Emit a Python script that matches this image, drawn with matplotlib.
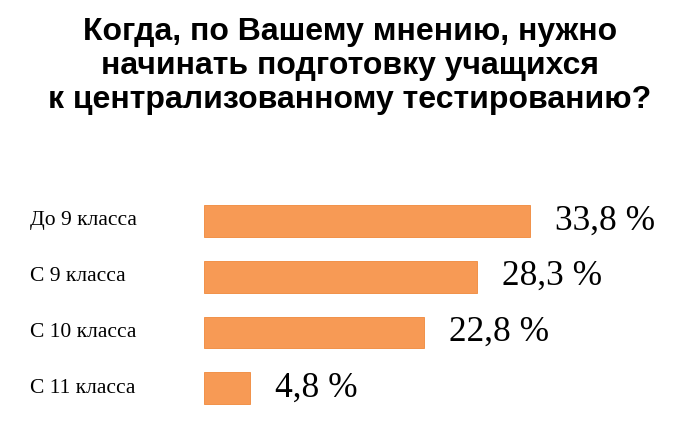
import matplotlib
matplotlib.use("Agg")
import matplotlib.pyplot as plt

categories = ["До 9 класса", "С 9 класса", "С 10 класса", "С 11 класса"]
values = [33.8, 28.3, 22.8, 4.8]
value_labels = ["33,8 %", "28,3 %", "22,8 %", "4,8 %"]
title = "Когда, по Вашему мнению, нужно\nначинать подготовку учащихся\nк централизованному тестированию?"

fig = plt.figure(figsize=(7, 4.23), dpi=100)
fig.patch.set_facecolor("white")
ax = fig.add_axes([0.291, 0.0165, 0.69, 0.527])
ys = list(range(len(values)))
ax.barh(ys, values, height=0.57, color="#F79A55", edgecolor="#F0883A", linewidth=0.6)
ax.set_xlim(0, 50)
ax.set_ylim(3.5, -0.5)
ax.axis("off")
for y, v, lab in zip(ys, values, value_labels):
    ax.text(v + 2.6, y, lab, va="center", ha="left", fontsize=25.5,
            family="Liberation Serif", color="black")
for y, c in zip(ys, categories):
    fig.text(30 / 700, 1 - (193 + 55.75 * y + 27.9) / 423, c, va="center", ha="left",
             fontsize=15.5, family="Liberation Serif")
fig.text(0.5, 1 - 66 / 423, title, ha="center", va="center", fontsize=23,
         fontweight="bold", family="Liberation Sans", linespacing=1.17)
fig.savefig("out.png", dpi=100, facecolor="white")
